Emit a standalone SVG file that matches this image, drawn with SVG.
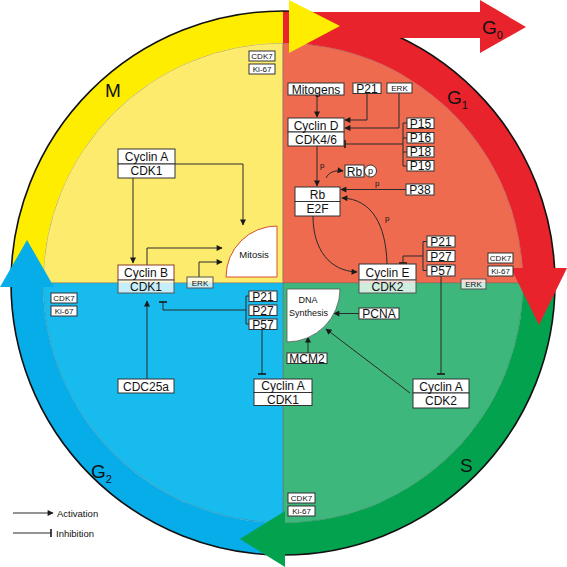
<svg xmlns="http://www.w3.org/2000/svg" width="567" height="567" viewBox="0 0 567 567">
<style>
.box{fill:#fff;stroke:#333;stroke-width:1}
.tbox{fill:#fff;fill-opacity:0.75;stroke:#555;stroke-width:1}
.t{font-family:"Liberation Sans",Arial,sans-serif;font-size:12px;text-anchor:middle;fill:#111}
.s{font-size:8px}
.m{font-size:9.5px}
.big{font-family:"Liberation Sans",Arial,sans-serif;font-size:19px;fill:#111}
.ln{fill:none;stroke:#2a2a2a;stroke-width:1}
.act{marker-end:url(#ah)}
.inh{marker-end:url(#tb)}
.q{stroke:#6b6b6b;stroke-width:0.8;stroke-opacity:0.6}
</style>
<defs>
<marker id="ah" viewBox="0 0 10 10" refX="9" refY="5" markerWidth="7" markerHeight="6" orient="auto" markerUnits="userSpaceOnUse"><path d="M0,0 L10,5 L0,10 z" fill="#1a1a1a"/></marker>
<marker id="tb" viewBox="0 0 2 10" refX="1" refY="5" markerWidth="1.6" markerHeight="8" orient="auto" markerUnits="userSpaceOnUse"><rect x="0" y="0" width="2" height="10" fill="#1a1a1a"/></marker>
</defs>
<rect width="567" height="567" fill="#fff"/>
<g id="cycle">
<path class="q" d="M283,283 L43,283 A240,240 0 0 1 283,43 Z" fill="#FCEB6C"/>
<path class="q" d="M283,283 L283,43 A240,240 0 0 1 523,283 Z" fill="#EE6B4F"/>
<path class="q" d="M283,283 L523,283 A240,240 0 0 1 283,523 Z" fill="#3DB77C"/>
<path class="q" d="M283,283 L283,523 A240,240 0 0 1 43,283 Z" fill="#18BBEE"/>
<path d="M11,283 A272,272 0 0 1 290,11.1 L290,43.1 A240,240 0 0 0 43,283 Z" fill="#FFED00"/>
<path d="M283,11 A272,272 0 0 1 554.6,268 L522.5,268 A240,240 0 0 0 283,43 Z" fill="#E8232B"/>
<path d="M555,283 A272,272 0 0 1 285,555 L285,523 A240,240 0 0 0 523,283 Z" fill="#03A24E"/>
<path d="M283,555 A272,272 0 0 1 11,287 L43,287 A240,240 0 0 0 283,523 Z" fill="#07ADE8"/>
<circle cx="283" cy="283" r="272" fill="none" stroke="#111" stroke-width="1.6"/>
<path d="M290,12 H480 V0 L526,27 L480,53 V38 H290 Z" fill="#E8232B"/>
<path d="M289,0 L340,26 L289,53 Z" fill="#FFED00"/>
<path d="M511,268 L567,268 L539,325 Z" fill="#E8232B"/>
<path d="M285,511 L285,567 L240,539 Z" fill="#03A24E"/>
<path d="M0,287 L54,287 L27,240 Z" fill="#07ADE8"/>
<text class="big" x="105" y="97" font-size="18">M</text>
<text class="big" x="447" y="104">G<tspan font-size="11" dy="5">1</tspan></text>
<text class="big" x="482" y="34">G<tspan font-size="11" dy="5">0</tspan></text>
<text class="big" x="91" y="478">G<tspan font-size="11" dy="5">2</tspan></text>
<text class="big" x="460" y="472" font-size="18">S</text>
</g>
<g id="connectors">
<path class="ln act" d="M175,164 H243 V225"/>
<path class="ln act" d="M133,178 V263"/>
<path class="ln act" d="M147,265 V248 H222"/>
<path class="ln act" d="M199,277 V262 H222"/>
<path class="ln" d="M249,296 H246 V324 H249"/>
<path class="ln inh" d="M246,310 H163 V302"/>
<path class="ln inh" d="M262,329 V374"/>
<path class="ln act" d="M147,379 V301"/>
<path class="ln act" d="M308,353 V337"/>
<path class="ln act" d="M359,313.5 H334"/>
<path class="ln act" d="M410,393 L326,329"/>
<path class="ln inh" d="M441,276 V374"/>
<path class="ln" d="M427,241.5 H423 V270.5 H427"/>
<path class="ln inh" d="M423,256 H403 V263"/>
<path class="ln act" d="M313,216 C313,250 330,271 357,272"/>
<path class="ln act" d="M387,264 C386,225 372,199 342,198"/>
<path class="ln act" d="M406,189.5 H341"/>
<path class="ln act" d="M317,146 V186"/>
<path class="ln act" d="M326,178 C329,172 335,170 343,171"/>
<path class="ln act" d="M317,95 V117"/>
<path class="ln act" d="M367,93 V120 H345"/>
<path class="ln act" d="M399,93 V128 H345"/>
<path class="ln" d="M407,123 H403 V166 H407 M407,138 H403 M407,152 H403"/>
<path class="ln inh" d="M403,144 H345"/>
<path class="ln act" d="M13,513 H53"/>
<path class="ln inh" d="M13,533 H51"/>
<g class="t" style="font-size:8px;text-anchor:start">
<text x="320" y="168">p</text>
<text x="375" y="186">p</text>
<text x="385" y="221">p</text>
</g>
</g>
<g id="legend" class="t" style="font-size:9.5px;text-anchor:start">
<text x="57" y="516.5">Activation</text>
<text x="56" y="536.5">Inhibition</text>
</g>
<g id="cdk7-ki67-top"><rect class="box" x="249" y="51" width="26" height="10"/><text class="t s" x="262" y="59">CDK7</text><rect class="box" x="249" y="64" width="26" height="10"/><text class="t s" x="262" y="72">Ki-67</text></g>
<g id="cyclinA-cdk1"><rect class="box" x="118" y="149" width="57" height="15"/><rect class="box" x="118" y="164" width="57" height="14"/><text class="t" x="146.5" y="160.5">Cyclin A</text><text class="t" x="146.5" y="175">CDK1</text></g>
<g id="mitosis"><path d="M277,277 H226 A51,51 0 0 1 277,226 Z" fill="#fff" stroke="#D5502E" stroke-width="1"/><text class="t m" x="254" y="258">Mitosis</text></g>
<g id="cyclinB-cdk1"><rect class="box" x="118" y="265" width="56" height="15" style="stroke:#8a3a2a"/><rect class="tbox" x="118" y="280" width="56" height="13"/><text class="t" x="146" y="276.5">Cyclin B</text><text class="t" x="146" y="291">CDK1</text></g>
<g id="erk-left"><rect class="tbox" x="187" y="277" width="26" height="11"/><text class="t s" x="200" y="285.5">ERK</text></g>
<g id="cdk7-ki67-left"><rect class="box" x="51" y="293" width="26" height="10"/><text class="t s" x="64" y="301">CDK7</text><rect class="box" x="51" y="306" width="26" height="10"/><text class="t s" x="64" y="314">Ki-67</text></g>
<g id="p-left"><rect class="box" x="249" y="291" width="28" height="10.5"/><text class="t" x="263" y="300.5">P21</text><rect class="box" x="249" y="305" width="28" height="10.5"/><text class="t" x="263" y="314.5">P27</text><rect class="box" x="249" y="319" width="28" height="10.5"/><text class="t" x="263" y="328.5">P57</text></g>
<g id="cdc25a"><rect class="box" x="118" y="379" width="56" height="14"/><text class="t" x="146" y="390.5">CDC25a</text></g>
<g id="cyclinA-cdk1-bottom"><rect class="box" x="254" y="379" width="58" height="13.5"/><rect class="box" x="254" y="392.5" width="58" height="13"/><text class="t" x="283" y="390">Cyclin A</text><text class="t" x="283" y="403.5">CDK1</text></g>
<g id="cdk7-ki67-bottom"><rect class="box" x="288" y="493" width="27" height="10"/><text class="t s" x="301.5" y="501">CDK7</text><rect class="box" x="288" y="506" width="27" height="10"/><text class="t s" x="301.5" y="514">Ki-67</text></g>
<g id="dna-synthesis"><path d="M287,289 H340 A53,53 0 0 1 287,342 Z" fill="#fff" stroke="#555" stroke-width="0.8"/><text class="t" style="font-size:9px" x="308" y="303">DNA</text><text class="t" style="font-size:9px" x="308.5" y="316">Synthesis</text></g>
<g id="mcm2"><rect class="box" x="287" y="353" width="40" height="10.5"/><text class="t" x="307" y="362.5">MCM2</text></g>
<g id="pcna"><rect class="box" x="359" y="308" width="40" height="11"/><text class="t" x="379" y="318">PCNA</text></g>
<g id="cyclinA-cdk2"><rect class="box" x="413" y="379" width="56" height="14"/><rect class="box" x="413" y="393" width="56" height="15"/><text class="t" x="441" y="390.5">Cyclin A</text><text class="t" x="441" y="405">CDK2</text></g>
<g id="cyclinE-cdk2"><rect class="box" x="359" y="264" width="57" height="16"/><rect class="tbox" x="359" y="280" width="57" height="13"/><text class="t" x="387.5" y="276.5">Cyclin E</text><text class="t" x="387.5" y="291">CDK2</text></g>
<g id="p-right"><rect class="box" x="427" y="236" width="28" height="11"/><text class="t" x="441" y="246">P21</text><rect class="box" x="427" y="250.5" width="28" height="11"/><text class="t" x="441" y="260.5">P27</text><rect class="box" x="427" y="265" width="28" height="11"/><text class="t" x="441" y="275">P57</text></g>
<g id="cdk7-ki67-right"><rect class="box" x="488" y="253" width="25" height="10"/><text class="t s" x="500.5" y="261">CDK7</text><rect class="box" x="488" y="266" width="25" height="10"/><text class="t s" x="500.5" y="274">Ki-67</text></g>
<g id="erk-right"><rect class="tbox" x="461" y="279" width="25" height="10"/><text class="t s" x="473.5" y="287">ERK</text></g>
<g id="rb-e2f"><rect class="box" x="295" y="187" width="45" height="14.5"/><rect class="box" x="295" y="201.5" width="45" height="14.5"/><text class="t" x="317.5" y="198.5">Rb</text><text class="t" x="317.5" y="213">E2F</text></g>
<g id="rb-p"><rect class="box" x="345" y="165" width="19" height="12"/><text class="t" x="354.5" y="175.5">Rb</text><circle cx="370.5" cy="171" r="6" fill="#fff" stroke="#333" stroke-width="1"/><text class="t" style="font-size:9px" x="370.5" y="174">p</text></g>
<g id="p38"><rect class="box" x="406" y="184" width="28" height="11"/><text class="t" x="420" y="194">P38</text></g>
<g id="cyclinD-cdk46"><rect class="box" x="288" y="118" width="56" height="14"/><rect class="box" x="288" y="132" width="56" height="14"/><text class="t" x="316" y="129.5">Cyclin D</text><text class="t" x="316" y="143.5">CDK4/6</text></g>
<g id="mitogens"><rect class="box" x="288" y="83" width="56" height="12"/><text class="t" x="316" y="93.5">Mitogens</text></g>
<g id="p21-top"><rect class="box" x="353" y="83" width="28" height="10.5"/><text class="t" x="367" y="92.5">P21</text></g>
<g id="erk-top"><rect class="box" x="387" y="83" width="25" height="10"/><text class="t s" x="399.5" y="91">ERK</text></g>
<g id="p15-p19"><rect class="box" x="407" y="118" width="27" height="10.5"/><text class="t" x="420.5" y="127.5">P15</text><rect class="box" x="407" y="132.5" width="27" height="10.5"/><text class="t" x="420.5" y="142">P16</text><rect class="box" x="407" y="146.5" width="27" height="10.5"/><text class="t" x="420.5" y="156">P18</text><rect class="box" x="407" y="160.5" width="27" height="10.5"/><text class="t" x="420.5" y="170">P19</text></g>
</svg>
